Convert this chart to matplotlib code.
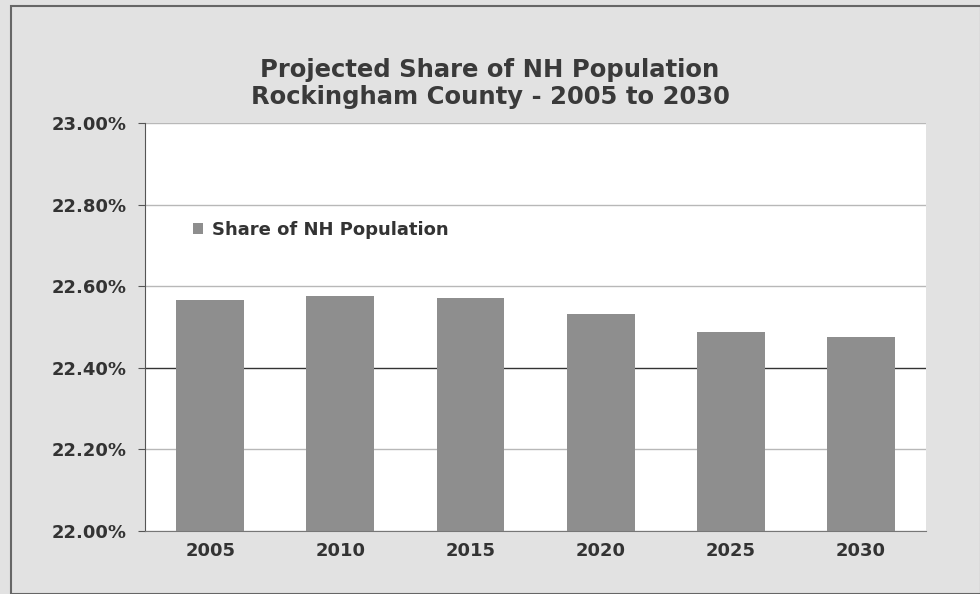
import matplotlib.pyplot as plt
import matplotlib.patches as mpatches
import numpy as np

years = ["2005", "2010", "2015", "2020", "2025", "2030"]
share = [22.567, 22.577, 22.572, 22.532, 22.487, 22.475]
yticks = [22.0, 22.2, 22.4, 22.6, 22.8, 23.0]

fig = plt.figure(figsize=(9.8, 5.94), dpi=100, facecolor="#e2e2e2")
ax = fig.add_axes([0.148, 0.106, 0.797, 0.687])
ax.set_facecolor("white")

xpos = np.arange(len(years))
ax.bar(xpos, share, width=0.52, color="#8e8e8e", label="Share of NH Population", zorder=3)

ax.set_xlim(-0.5, len(years) - 0.5)
ax.set_ylim(22.0, 23.0)
ax.set_yticks(yticks)
ax.set_yticklabels(["%.2f%%" % v for v in yticks])
ax.set_xticks(xpos)
ax.set_xticklabels(years)
for lab in ax.get_xticklabels() + ax.get_yticklabels():
    lab.set_fontweight("bold")
    lab.set_fontsize(13)
    lab.set_color("#333333")
ax.tick_params(axis="x", length=0, pad=8)
ax.tick_params(axis="y", length=5, color="#555555", pad=8)

ax.yaxis.grid(True, color="#b8b8b8", lw=1, zorder=0)
gl = ax.get_ygridlines()
gl[2].set_color("#333333")
for s in ["top", "right"]:
    ax.spines[s].set_visible(False)
ax.spines["left"].set_color("#555555")
ax.spines["bottom"].set_color("#777777")

ax.legend(loc="upper left", bbox_to_anchor=(0.04, 0.80), frameon=False,
          handlelength=0.6, handleheight=0.6, handletextpad=0.5,
          prop={"weight": "bold", "size": 13}, labelcolor="#333333")

fig.text(0.5, 0.86, "Projected Share of NH Population\nRockingham County - 2005 to 2030",
         ha="center", va="center", fontsize=17.5, fontweight="bold", color="#3a3a3a",
         linespacing=1.15)

fig.patches.append(mpatches.Rectangle((0.011, 0.0), 0.99, 0.99, transform=fig.transFigure,
                                      fill=False, ec="#666666", lw=1.5))

fig.savefig("out.png", dpi=100, facecolor=fig.get_facecolor())
